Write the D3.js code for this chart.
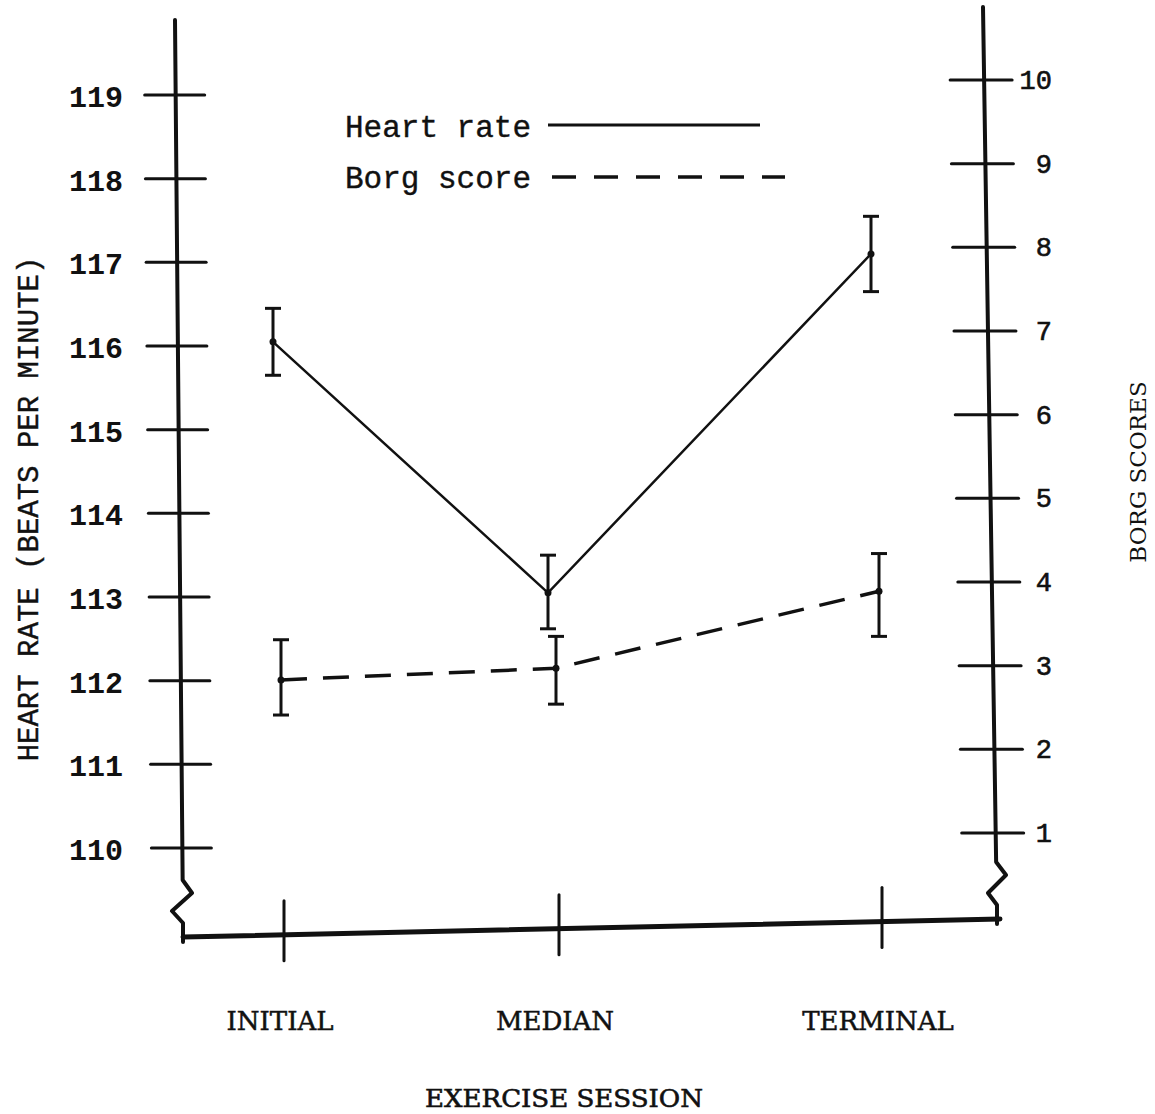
<!DOCTYPE html>
<html>
<head>
<meta charset="utf-8">
<script src="https://cdn.jsdelivr.net/npm/d3@7"></script>
<style>
  html, body { margin: 0; padding: 0; background: #fff; }
  svg { display: block; }
  .mono { font-family: "Liberation Mono", "Courier New", monospace; fill: #111; }
  .serif { font-family: "DejaVu Serif", "Liberation Serif", serif; fill: #111; }
</style>
</head>
<body>
<svg width="1155" height="1114"></svg>
<script>
const sessions = ["INITIAL", "MEDIAN", "TERMINAL"];

const heartRate = [116.05, 113.05, 117.1];
const heartRateHigh = [116.45, 113.5, 117.55];
const heartRateLow = [115.65, 112.62, 116.65];

const borgScore = [2.83, 2.97, 3.89];
const borgHigh = [3.31, 3.35, 4.34];
const borgLow = [2.41, 2.54, 3.35];

const hrTicks = [110, 111, 112, 113, 114, 115, 116, 117, 118, 119];
const borgTicks = [1, 2, 3, 4, 5, 6, 7, 8, 9, 10];

const svg = d3.select("svg");

const x = d3.scaleOrdinal().domain(sessions).range([278, 553, 876]);
const yHR = d3.scaleLinear().domain([110, 119]).range([848, 95]);
const yBorg = d3.scaleLinear().domain([1, 10]).range([833, 80]);

// hand drawn axes lean a little
const leftX = y => 175 + (y - 20) * 8 / 900;
const rightX = y => 983 + (y - 7) * 14 / 911;
const baseY = px => 937 - (px - 183) * 18 / 817;

const ink = "#111";
const axes = svg.append("g").attr("fill", "none").attr("stroke", ink).attr("stroke-linecap", "round");

// left axis with break
axes.append("path")
    .attr("stroke-width", 4)
    .attr("stroke-linejoin", "round")
    .attr("d", `M${leftX(20)},20 L${leftX(880)},880 L192,893 L172,911 L183,923 L183,942`);

// right axis with break
axes.append("path")
    .attr("stroke-width", 4)
    .attr("stroke-linejoin", "round")
    .attr("d", `M${rightX(7)},7 L${rightX(862)},862 L1006,875 L988,893 L997,905 L997,924`);

// bottom line
axes.append("line")
    .attr("stroke-width", 5)
    .attr("x1", 183).attr("y1", baseY(183))
    .attr("x2", 1000).attr("y2", baseY(1000));

// left ticks
axes.selectAll(".hrTick")
    .data(hrTicks)
    .enter()
    .append("line")
    .attr("class", "hrTick")
    .attr("stroke-width", 3)
    .attr("x1", d => leftX(yHR(d)) - 31)
    .attr("x2", d => leftX(yHR(d)) + 29)
    .attr("y1", d => yHR(d))
    .attr("y2", d => yHR(d));

svg.selectAll(".hrLabel")
    .data(hrTicks)
    .enter()
    .append("text")
    .attr("class", "hrLabel mono")
    .attr("x", 123)
    .attr("y", d => yHR(d) + 12)
    .attr("text-anchor", "end")
    .attr("font-size", 30)
    .attr("font-weight", "bold")
    .text(d => d);

// right ticks
axes.selectAll(".borgTick")
    .data(borgTicks)
    .enter()
    .append("line")
    .attr("class", "borgTick")
    .attr("stroke-width", 3)
    .attr("x1", d => rightX(yBorg(d)) - 34)
    .attr("x2", d => rightX(yBorg(d)) + 28)
    .attr("y1", d => yBorg(d))
    .attr("y2", d => yBorg(d));

svg.selectAll(".borgLabel")
    .data(borgTicks)
    .enter()
    .append("text")
    .attr("class", "borgLabel mono")
    .attr("x", 1052)
    .attr("y", d => yBorg(d) + 9)
    .attr("text-anchor", "end")
    .attr("font-size", 27)
    .attr("stroke", ink)
    .attr("stroke-width", 0.6)
    .text(d => d);

// bottom ticks
axes.selectAll(".sessTick")
    .data(sessions)
    .enter()
    .append("line")
    .attr("class", "sessTick")
    .attr("stroke-width", 3)
    .attr("x1", d => x(d) + 6)
    .attr("x2", d => x(d) + 6)
    .attr("y1", d => baseY(x(d) + 6) - 34)
    .attr("y2", d => baseY(x(d) + 6) + 26);

svg.selectAll(".sessLabel")
    .data(sessions)
    .enter()
    .append("text")
    .attr("class", "sessLabel serif")
    .attr("x", d => x(d) + 2)
    .attr("y", 1030)
    .attr("text-anchor", "middle")
    .attr("font-size", 26)
    .attr("stroke", ink)
    .attr("stroke-width", 0.5)
    .text(d => d);

// axis titles
svg.append("text")
    .attr("class", "serif")
    .attr("x", 564)
    .attr("y", 1107)
    .attr("text-anchor", "middle")
    .attr("font-size", 25)
    .attr("stroke", ink)
    .attr("stroke-width", 0.6)
    .attr("textLength", 278)
    .attr("lengthAdjust", "spacingAndGlyphs")
    .text("EXERCISE SESSION");

svg.append("text")
    .attr("class", "mono")
    .attr("transform", "translate(38,509) rotate(-90)")
    .attr("text-anchor", "middle")
    .attr("font-size", 29)
    .attr("stroke", ink)
    .attr("stroke-width", 0.4)
    .text("HEART RATE (BEATS PER MINUTE)");

svg.append("text")
    .attr("class", "serif")
    .attr("transform", "translate(1146,472) rotate(-90)")
    .attr("text-anchor", "middle")
    .attr("font-size", 23)
    .text("BORG  SCORES");

// series
const hrData = sessions.map((s, i) => ({ s, v: heartRate[i], hi: heartRateHigh[i], lo: heartRateLow[i] }));
const borgData = sessions.map((s, i) => ({ s, v: borgScore[i], hi: borgHigh[i], lo: borgLow[i] }));

function drawSeries(data, y, dx, dash, width) {
    const g = svg.append("g");
    const line = d3.line().x(d => x(d.s) + dx).y(d => y(d.v));
    g.append("path")
        .datum(data)
        .attr("fill", "none")
        .attr("stroke", ink)
        .attr("stroke-width", width)
        .attr("stroke-dasharray", dash)
        .attr("d", line);

    const bars = g.selectAll(".err").data(data).enter().append("g").attr("class", "err")
        .attr("stroke", ink).attr("stroke-width", 3);
    bars.append("line")
        .attr("x1", d => x(d.s) + dx).attr("x2", d => x(d.s) + dx)
        .attr("y1", d => y(d.hi)).attr("y2", d => y(d.lo));
    bars.append("line")
        .attr("x1", d => x(d.s) + dx - 8).attr("x2", d => x(d.s) + dx + 8)
        .attr("y1", d => y(d.hi)).attr("y2", d => y(d.hi));
    bars.append("line")
        .attr("x1", d => x(d.s) + dx - 8).attr("x2", d => x(d.s) + dx + 8)
        .attr("y1", d => y(d.lo)).attr("y2", d => y(d.lo));

    g.selectAll(".pt").data(data).enter().append("circle")
        .attr("class", "pt")
        .attr("cx", d => x(d.s) + dx)
        .attr("cy", d => y(d.v))
        .attr("r", 3.5)
        .attr("fill", ink);
}

drawSeries(hrData, yHR, -5, null, 2.5);
drawSeries(borgData, yBorg, 3, "26,16", 3.5);

// legend
const legend = svg.append("g");
legend.append("text").attr("class", "mono").attr("x", 345).attr("y", 137)
    .attr("font-size", 31).attr("stroke", ink).attr("stroke-width", 0.4).text("Heart rate");
legend.append("line").attr("x1", 548).attr("x2", 760).attr("y1", 125).attr("y2", 125)
    .attr("stroke", ink).attr("stroke-width", 3);
legend.append("text").attr("class", "mono").attr("x", 345).attr("y", 188)
    .attr("font-size", 31).attr("stroke", ink).attr("stroke-width", 0.4).text("Borg score");
legend.append("line").attr("x1", 552).attr("x2", 785).attr("y1", 177).attr("y2", 177)
    .attr("stroke", ink).attr("stroke-width", 3.5).attr("stroke-dasharray", "24,18");
</script>
</body>
</html>
